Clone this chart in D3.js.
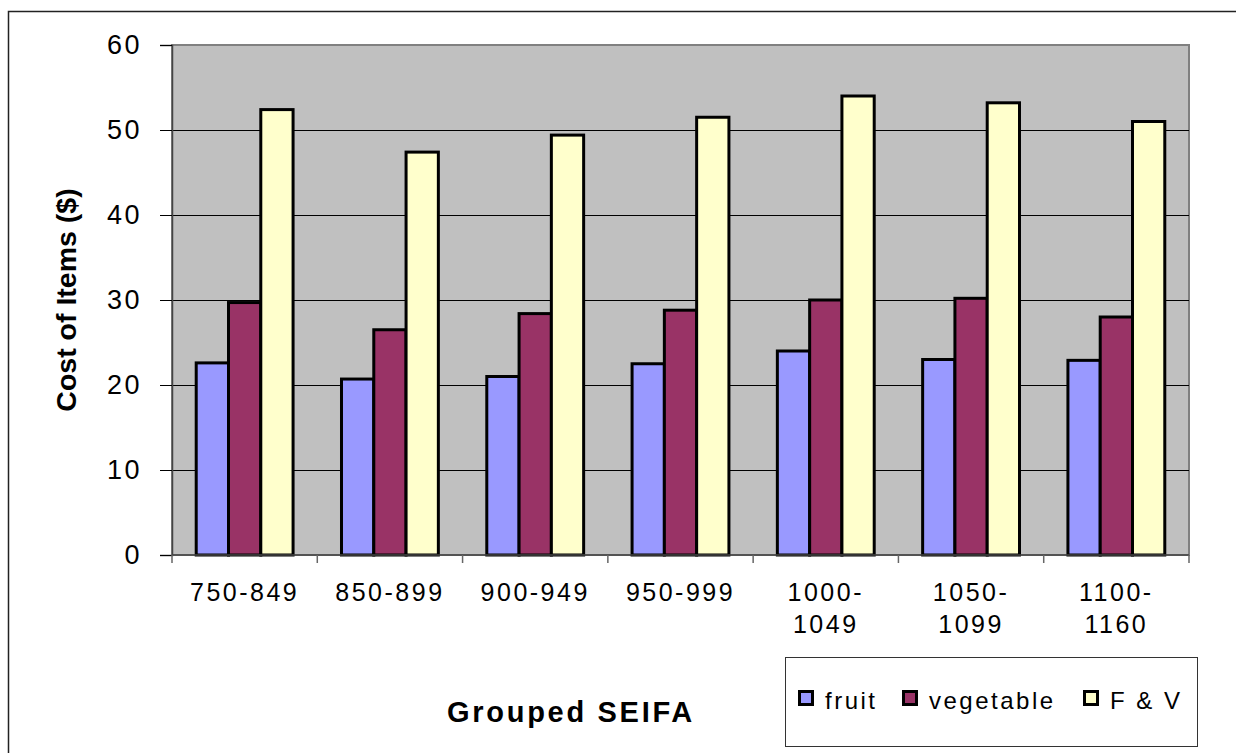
<!DOCTYPE html>
<html>
<head>
<meta charset="utf-8">
<script src="https://cdn.jsdelivr.net/npm/d3@7"></script>
<style>
  body { margin: 0; background: #fff; }
  svg { display: block; font-family: "Liberation Sans", Arial, sans-serif; }
</style>
</head>
<body>
<svg id="chart" width="1236" height="753"></svg>
<script>
// Data
const categories = [["750-849"], ["850-899"], ["900-949"], ["950-999"], ["1000-", "1049"], ["1050-", "1099"], ["1100-", "1160"]]
const seriesNames = ["fruit", "vegetable", "F & V"]
const fruit = [22.6, 20.7, 21.0, 22.5, 24.0, 23.0, 22.9]
const vegetable = [29.7, 26.5, 28.4, 28.8, 30.0, 30.2, 28.0]
const fandv = [52.4, 47.4, 49.4, 51.5, 54.0, 53.2, 51.0]
const yTicks = [0, 10, 20, 30, 40, 50, 60]
const colors = ["#9999FF", "#993366", "#FFFFCC"]

const series = [fruit, vegetable, fandv]

const margins = { top: 45, left: 172, right: 1189, bottom: 555 }

let svg = d3.select("#chart")

// Outer chart border (runs off the picture on the right and bottom)
svg.append("rect")
    .attr("x", 8.5).attr("y", 11.5)
    .attr("width", 1250).attr("height", 760)
    .attr("fill", "#fff")
    .attr("stroke", "#222").attr("stroke-width", 1.5)

let x0 = d3.scaleBand()
    .domain(d3.range(categories.length))
    .range([margins.left, margins.right])

// Excel gap width 150%: three bars take 3 / 4.5 of a category
let x1 = d3.scaleBand()
    .domain(d3.range(series.length))
    .range([x0.bandwidth() * 0.75 / 4.5, x0.bandwidth() * 3.75 / 4.5])

let y = d3.scaleLinear()
    .domain([0, 60])
    .range([margins.bottom, margins.top])

// Plot area
svg.append("rect")
    .attr("x", margins.left).attr("y", margins.top)
    .attr("width", margins.right - margins.left)
    .attr("height", margins.bottom - margins.top)
    .attr("fill", "#C0C0C0")
    .attr("stroke", "#808080").attr("stroke-width", 2)

// Gridlines
svg.append("g")
    .selectAll("line")
    .data(yTicks.filter(d => d > 0 && d < 60))
    .join("line")
    .attr("x1", margins.left).attr("x2", margins.right)
    .attr("y1", d => Math.round(y(d)) + 0.5).attr("y2", d => Math.round(y(d)) + 0.5)
    .attr("stroke", "#000").attr("stroke-width", 1)

// Bars
let groups = svg.append("g")
    .selectAll("g")
    .data(categories)
    .join("g")
    .attr("transform", (d, i) => "translate(" + x0(i) + ",0)")

groups.selectAll("rect")
    .data((d, i) => series.map((s, k) => ({ k: k, v: s[i] })))
    .join("rect")
    .attr("x", d => x1(d.k))
    .attr("y", d => y(d.v))
    .attr("width", x1.bandwidth())
    .attr("height", d => y(0) - y(d.v))
    .attr("fill", d => colors[d.k])
    .attr("stroke", "#000").attr("stroke-width", 3)

// Y axis
let yAxis = svg.append("g")
    .attr("transform", "translate(" + margins.left + ",0)")
    .call(d3.axisLeft(y).tickValues(yTicks).tickSize(12).tickPadding(18))
yAxis.select(".domain").attr("stroke", "#444").attr("stroke-width", 1.5)
yAxis.selectAll(".tick line").attr("stroke", "#000")
yAxis.selectAll("text")
    .attr("font-size", 27).attr("fill", "#000")
    .attr("font-family", "Liberation Sans, Arial, sans-serif")
    .style("letter-spacing", "2.5px")

// X axis: ticks at category boundaries
let xAxis = svg.append("g")
xAxis.append("line")
    .attr("x1", margins.left).attr("x2", margins.right)
    .attr("y1", margins.bottom).attr("y2", margins.bottom)
    .attr("stroke", "#444").attr("stroke-width", 1.5)
xAxis.selectAll(".xtick")
    .data(d3.range(categories.length + 1))
    .join("line")
    .attr("class", "xtick")
    .attr("x1", i => i < categories.length ? x0(i) : margins.right)
    .attr("x2", i => i < categories.length ? x0(i) : margins.right)
    .attr("y1", margins.bottom).attr("y2", margins.bottom + 8)
    .attr("stroke", "#666").attr("stroke-width", 1.5)

xAxis.selectAll("text")
    .data(categories)
    .join("text")
    .attr("x", (d, i) => x0(i) + x0.bandwidth() / 2)
    .attr("y", 601)
    .attr("text-anchor", "middle")
    .attr("font-size", 25)
    .style("letter-spacing", "2.5px")
    .selectAll("tspan")
    .data(d => d)
    .join("tspan")
    .attr("x", function () { return this.parentNode.getAttribute("x") })
    .attr("dy", (d, i) => i === 0 ? 0 : 32)
    .text(d => d)

// Axis titles
svg.append("text")
    .attr("transform", "translate(76,300) rotate(-90)")
    .attr("text-anchor", "middle")
    .attr("font-size", 28.5).attr("font-weight", "bold")
    .text("Cost of Items ($)")

svg.append("text")
    .attr("x", 571).attr("y", 722)
    .attr("text-anchor", "middle")
    .attr("font-size", 29).attr("font-weight", "bold")
    .style("letter-spacing", "2.7px")
    .text("Grouped SEIFA")

// Legend
let legend = svg.append("g")
legend.append("rect")
    .attr("x", 785.5).attr("y", 657.5)
    .attr("width", 412).attr("height", 89)
    .attr("fill", "#fff")
    .attr("stroke", "#333").attr("stroke-width", 1)

const legendX = [798, 902, 1083]
let items = legend.selectAll("g.item")
    .data(seriesNames)
    .join("g")
    .attr("class", "item")
    .attr("transform", (d, i) => "translate(" + legendX[i] + ",690)")
items.append("rect")
    .attr("x", 1.5).attr("y", 1.5)
    .attr("width", 13).attr("height", 13)
    .attr("fill", (d, i) => colors[i])
    .attr("stroke", "#000").attr("stroke-width", 3)
items.append("text")
    .attr("x", 27).attr("y", 19)
    .attr("font-size", 24)
    .style("letter-spacing", "2.5px")
    .text(d => d)
</script>
</body>
</html>
